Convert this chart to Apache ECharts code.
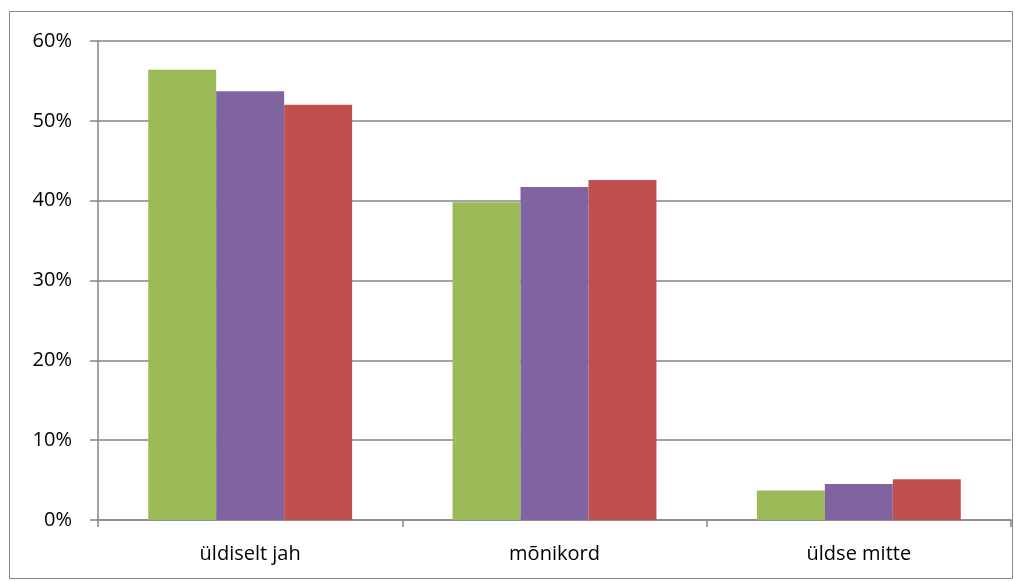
<!DOCTYPE html>
<html><head><meta charset="utf-8">
<script src="https://cdn.jsdelivr.net/npm/echarts@6/dist/echarts.min.js"></script>
<style>html,body{margin:0;padding:0;background:#fff}#c{width:1015px;height:581px}</style>
</head><body><div id="c"></div>
<script>
const categories = ['üldiselt jah', 'mõnikord', 'üldse mitte'];
const seriesA = [56.4, 39.8, 3.7];
const seriesB = [53.7, 41.7, 4.5];
const seriesC = [52.0, 42.6, 5.1];
const yTicks = [0, 10, 20, 30, 40, 50, 60];

const chart = echarts.init(document.getElementById('c'));
const font = '"Open Sans", "Noto Sans", sans-serif';
const mk = (name, data, color) => ({
  name, type: 'bar', data, barGap: '0%', barCategoryGap: '33%',
  itemStyle: { color }
});
chart.setOption({
  animation: false,
  graphic: [{ type: 'rect', shape: { x: 9.5, y: 11.5, width: 1003, height: 567 },
    style: { fill: 'none', stroke: '#868686', lineWidth: 1 } }],
  grid: { left: 98, right: 4, top: 41, bottom: 61 },
  xAxis: {
    type: 'category', data: categories,
    axisLine: { lineStyle: { color: '#868686', width: 1.5 } },
    axisTick: { show: true, length: 7, lineStyle: { color: '#868686', width: 1.5 } },
    axisLabel: { color: '#000', fontFamily: font, fontSize: 20, margin: 24 }
  },
  yAxis: {
    type: 'value', min: yTicks[0], max: yTicks[yTicks.length - 1], interval: 10,
    axisLine: { show: true, lineStyle: { color: '#868686', width: 1.5 } },
    axisTick: { show: true, length: 8, inside: false, lineStyle: { color: '#868686', width: 1.5 } },
    splitLine: { lineStyle: { color: '#868686', width: 1.5 } },
    axisLabel: { color: '#000', fontFamily: font, fontSize: 20, margin: 26, formatter: v => v + '%' }
  },
  series: [
    mk('A', seriesA, '#9BBB59'),
    mk('B', seriesB, '#8064A2'),
    mk('C', seriesC, '#C0504D')
  ]
});
</script></body></html>
